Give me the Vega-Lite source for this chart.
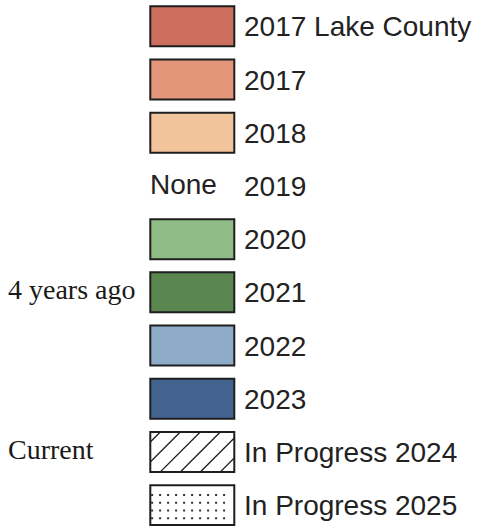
{
  "$schema": "https://vega.github.io/schema/vega-lite/v6.json",
  "width": 482,
  "height": 529,
  "autosize": {"type": "fit", "contains": "padding"},
  "padding": 0,
  "background": "#ffffff",
  "view": {"stroke": null},
  "data": {
    "values": [
      {"order": 0, "label": "2017 Lake County", "kind": "fill"},
      {"order": 1, "label": "2017", "kind": "fill"},
      {"order": 2, "label": "2018", "kind": "fill"},
      {"order": 3, "label": "2019", "kind": "none"},
      {"order": 4, "label": "2020", "kind": "fill"},
      {"order": 5, "label": "2021", "kind": "fill", "note": "4 years ago"},
      {"order": 6, "label": "2022", "kind": "fill"},
      {"order": 7, "label": "2023", "kind": "fill"},
      {"order": 8, "label": "In Progress 2024", "kind": "hatch", "note": "Current"},
      {"order": 9, "label": "In Progress 2025", "kind": "dots"}
    ]
  },
  "encoding": {
    "y": {
      "field": "order",
      "type": "quantitative",
      "scale": {"domain": [-0.4953, 9.3925], "reverse": true, "nice": false, "zero": false},
      "axis": null
    }
  },
  "layer": [
    {
      "transform": [{"filter": "datum.kind != 'none'"}],
      "mark": {
        "type": "point",
        "shape": "M-1,-0.476H1V0.476H-1Z",
        "size": 7056,
        "filled": true,
        "opacity": 1,
        "stroke": "#1e1e1e",
        "strokeWidth": 2
      },
      "encoding": {
        "x": {"datum": 192.3, "type": "quantitative", "scale": {"domain": [0, 482], "nice": false, "zero": false}, "axis": null},
        "color": {
          "field": "label",
          "type": "nominal",
          "scale": {
            "domain": ["2017 Lake County", "2017", "2018", "2020", "2021", "2022", "2023", "In Progress 2024", "In Progress 2025"],
            "range": ["#cd6f5e", "#e3967a", "#f2c49b", "#8fbb85", "#5a8750", "#8eabc8", "#446490", "#ffffff", "#ffffff"]
          },
          "legend": null
        }
      }
    },
    {
      "transform": [{"filter": "datum.kind == 'hatch'"}],
      "mark": {
        "type": "point",
        "shape": "M-1,-0.238L-0.762,-0.476M-1,0.238L-0.286,-0.476M-0.762,0.476L0.190,-0.476M-0.286,0.476L0.667,-0.476M0.190,0.476L1,-0.333M0.667,0.476L1,0.143",
        "size": 7056,
        "filled": false,
        "opacity": 1,
        "stroke": "#1e1e1e",
        "strokeWidth": 1.3
      },
      "encoding": {
        "x": {"datum": 192.3, "type": "quantitative", "axis": null}
      }
    },
    {
      "transform": [{"filter": "datum.kind == 'dots'"}],
      "mark": {
        "type": "point",
        "shape": "M-0.981,-0.238H0.82M-0.981,-0.055H0.82M-0.981,0.126H0.82M-0.981,0.31H0.82",
        "size": 7056,
        "filled": false,
        "opacity": 1,
        "stroke": "#333333",
        "strokeWidth": 2,
        "strokeDash": [2, 6]
      },
      "encoding": {
        "x": {"datum": 192.3, "type": "quantitative", "axis": null}
      }
    },
    {
      "mark": {
        "type": "text",
        "align": "left",
        "baseline": "alphabetic",
        "dy": 10,
        "font": "Liberation Sans",
        "fontSize": 28,
        "color": "#222222"
      },
      "encoding": {
        "x": {"datum": 244, "type": "quantitative", "axis": null},
        "text": {"field": "label"}
      }
    },
    {
      "transform": [{"filter": "datum.kind == 'none'"}],
      "mark": {
        "type": "text",
        "align": "left",
        "baseline": "alphabetic",
        "dy": 8,
        "font": "Liberation Sans",
        "fontSize": 28,
        "color": "#222222"
      },
      "encoding": {
        "x": {"datum": 150, "type": "quantitative", "axis": null},
        "text": {"value": "None"}
      }
    },
    {
      "transform": [{"filter": "isValid(datum.note)"}],
      "mark": {
        "type": "text",
        "align": "left",
        "baseline": "alphabetic",
        "dy": 7,
        "font": "Liberation Serif",
        "fontSize": 28,
        "color": "#1a1a1a"
      },
      "encoding": {
        "x": {"datum": 8, "type": "quantitative", "axis": null},
        "text": {"field": "note"}
      }
    }
  ]
}
